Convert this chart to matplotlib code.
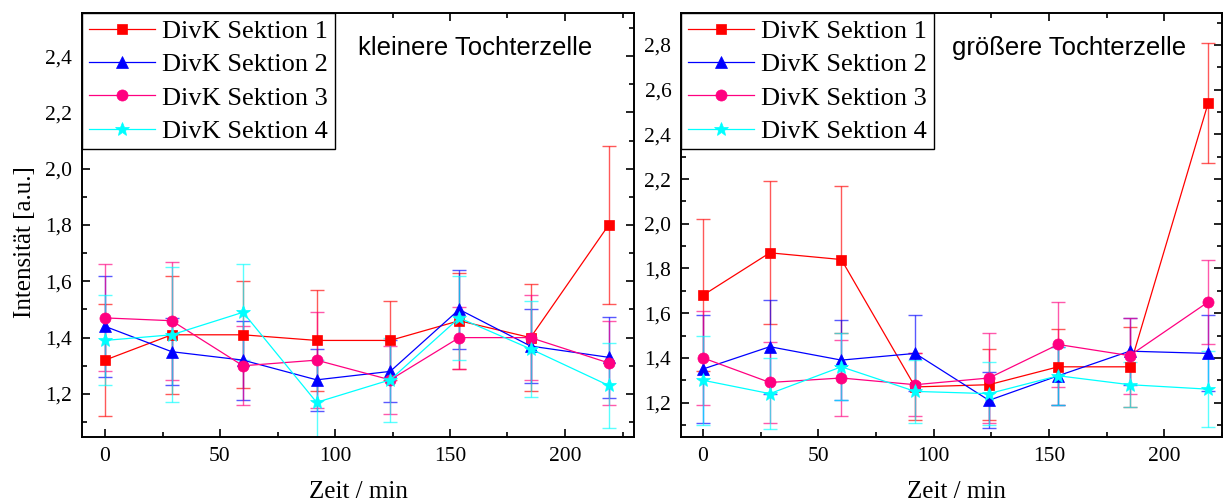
import matplotlib
matplotlib.use("Agg")
import matplotlib.pyplot as plt
from matplotlib.ticker import MultipleLocator, FuncFormatter

# Time points (min)
zeit = [0, 29, 60, 92, 124, 154, 185, 219]

labels = ["DivK Sektion 1", "DivK Sektion 2", "DivK Sektion 3", "DivK Sektion 4"]

# smaller daughter cell: mean intensities and errors per section
klein_s1 = [1.32, 1.41, 1.41, 1.39, 1.39, 1.46, 1.40, 1.80]
klein_e1 = [0.20, 0.21, 0.19, 0.18, 0.14, 0.17, 0.19, 0.28]
klein_s2 = [1.44, 1.35, 1.32, 1.25, 1.28, 1.50, 1.37, 1.33]
klein_e2 = [0.18, 0.12, 0.14, 0.11, 0.11, 0.14, 0.13, 0.145]
klein_s3 = [1.47, 1.46, 1.30, 1.32, 1.25, 1.40, 1.40, 1.31]
klein_e3 = [0.19, 0.21, 0.14, 0.17, 0.12, 0.11, 0.15, 0.15]
klein_s4 = [1.39, 1.41, 1.49, 1.17, 1.25, 1.47, 1.36, 1.23]
klein_e4 = [0.16, 0.24, 0.17, 0.15, 0.15, 0.15, 0.17, 0.15]

# larger daughter cell
gross_s1 = [1.68, 1.87, 1.84, 1.27, 1.28, 1.36, 1.36, 2.54]
gross_e1 = [0.34, 0.32, 0.33, 0.15, 0.16, 0.17, 0.18, 0.27]
gross_s2 = [1.35, 1.45, 1.39, 1.42, 1.21, 1.32, 1.43, 1.42]
gross_e2 = [0.24, 0.21, 0.18, 0.17, 0.125, 0.13, 0.15, 0.17]
gross_s3 = [1.40, 1.29, 1.31, 1.28, 1.31, 1.46, 1.41, 1.65]
gross_e3 = [0.21, 0.18, 0.17, 0.14, 0.20, 0.19, 0.17, 0.19]
gross_s4 = [1.30, 1.24, 1.36, 1.25, 1.24, 1.32, 1.28, 1.26]
gross_e4 = [0.20, 0.16, 0.15, 0.14, 0.14, 0.13, 0.10, 0.17]

colors = ["#FF0000", "#0000FF", "#FF0080", "#00FFFF"]
markers = ["s", "^", "o", "*"]
msizes = [7, 8.5, 8, 10.5]

SERIF = "Liberation Serif"
SANS = "Liberation Sans"
plt.rcParams["font.family"] = [SERIF, "DejaVu Serif"]

fig = plt.figure(figsize=(12.23, 5.03), dpi=100)
W, H = 1223.0, 503.0
ax1 = fig.add_axes([82 / W, 66 / H, 552 / W, 424 / H])
ax2 = fig.add_axes([681 / W, 66 / H, 541 / W, 424 / H])

comma = FuncFormatter(lambda v, p: f"{v:.1f}".replace(".", ","))


def draw(ax, series, errs, title, xlim, ylim, ymax_tick):
    handles = []
    for s, e, c, m, ms, lab in zip(series, errs, colors, markers, msizes, labels):
        ax.errorbar(zeit, s, yerr=e, fmt="none", ecolor=c, elinewidth=1.0,
                    capsize=5, capthick=1.0, alpha=0.65, zorder=2)
        h, = ax.plot(zeit, s, color=c, lw=0.9, marker=m, ms=ms,
                     mfc=c, mec=c, mew=0.5, label=lab, zorder=3)
        handles.append(h)
    ax.set_xlim(*xlim)
    ax.set_ylim(*ylim)
    ax.set_xticks([0, 50, 100, 150, 200])
    ax.xaxis.set_minor_locator(MultipleLocator(25))
    ticks = [1.2 + 0.2 * i for i in range(int(round((ymax_tick - 1.2) / 0.2)) + 1)]
    ax.set_yticks(ticks)
    ax.yaxis.set_minor_locator(MultipleLocator(0.1))
    ax.yaxis.set_major_formatter(comma)
    ax.tick_params(which="both", direction="in", top=True, right=True,
                   width=1.2, labelsize=15.5, colors="black")
    ax.tick_params(which="major", length=6, pad=7)
    ax.tick_params(which="minor", length=3.5)
    for sp in ax.spines.values():
        sp.set_linewidth(1.4)
    leg = ax.legend(handles=handles, loc="upper left", bbox_to_anchor=(0, 1),
                    borderaxespad=0, prop={"family": SERIF, "size": 19},
                    handlelength=2.5, handletextpad=0.3, labelspacing=0.37,
                    borderpad=0.25, fancybox=False, framealpha=1,
                    edgecolor="black", numpoints=1)
    leg.get_frame().set_linewidth(1.0)
    ax.text(0.5, 0.901, title, transform=ax.transAxes, ha="left",
            va="baseline", fontsize=18.5, family=SANS)
    ax.set_xlabel("Zeit / min", fontsize=18, family=SERIF)
    ax.xaxis.label.set_va("baseline")


draw(ax1, [klein_s1, klein_s2, klein_s3, klein_s4],
     [klein_e1, klein_e2, klein_e3, klein_e4],
     "kleinere Tochterzelle", (-10, 230), (1.047, 2.553), 2.4)
draw(ax2, [gross_s1, gross_s2, gross_s3, gross_s4],
     [gross_e1, gross_e2, gross_e3, gross_e4],
     "größere Tochterzelle", (-9.5, 225), (1.046, 2.943), 2.8)

ax1.xaxis.set_label_coords(0.5, -0.143)
ax2.xaxis.set_label_coords(0.51, -0.143)

ax1.set_ylabel("Intensität [a.u.]", fontsize=18, family=SERIF)
ax1.yaxis.label.set_va("center")
ax1.yaxis.label.set_ha("center")
ax1.yaxis.set_label_coords(-0.103, 0.46)

fig.savefig("out.png", dpi=100)
